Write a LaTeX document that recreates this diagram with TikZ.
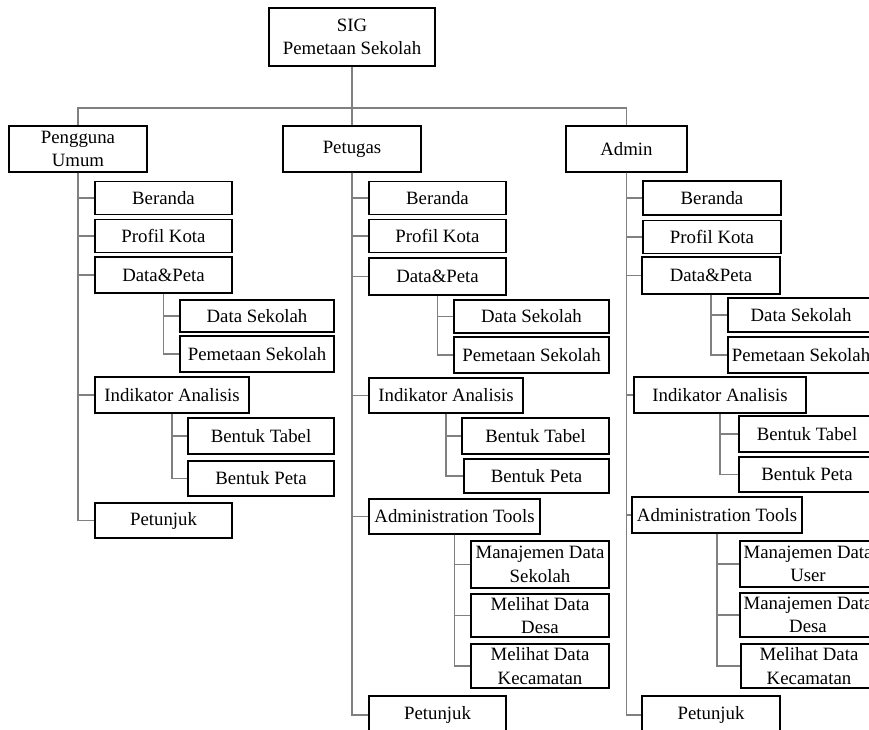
\documentclass[tikz,border=0pt]{standalone}
\usepackage{fontspec}
\setmainfont{Liberation Serif}
\begin{document}
\begin{tikzpicture}[x=1pt,y=-1pt,
  box/.style={draw=black, line width=1.1pt, fill=white, inner sep=0pt,
    align=center, font=\fontsize{18.8}{23.5}\selectfont},
  sz/.style 2 args={minimum width=#1pt, minimum height=#2pt},
  conn/.style={draw=black!50, line width=1.4pt}]
\useasboundingbox (0,0) rectangle (869,729);
\clip (0,0) rectangle (869,729);

% root and the three user groups
\node[box, sz={166}{58}] (sig) at (352,37) {SIG\\Pemetaan Sekolah};
\node[box, sz={138}{46}] (pu)  at (78,149)  {Pengguna\\Umum};
\node[box, sz={138}{46}] (pet) at (352,149) {Petugas};
\node[box, sz={121}{46}] (adm) at (626.5,149) {Admin};
\coordinate (bus) at (352,108);

% Pengguna Umum menu
\node[box, sz={137}{33}] (l1) at (163.5,198) {Beranda};
\node[box, sz={137}{33}] (l2) at (163.5,236) {Profil Kota};
\node[box, sz={137}{36}] (l3) at (163.5,275) {Data\&Peta};
\node[box, sz={154}{32}] (l31) at (257,316) {Data Sekolah};
\node[box, sz={154}{36}] (l32) at (257,354) {Pemetaan Sekolah};
\node[box, sz={154}{36}] (l4) at (172,395) {Indikator Analisis};
\node[box, sz={146}{36}] (l41) at (261,436) {Bentuk Tabel};
\node[box, sz={146}{35}] (l42) at (261,478.5) {Bentuk Peta};
\node[box, sz={137}{35}] (l5) at (163.5,520.5) {Petunjuk};

% Petugas menu
\node[box, sz={137}{33}] (m1) at (437.5,198) {Beranda};
\node[box, sz={137}{33}] (m2) at (437.5,236) {Profil Kota};
\node[box, sz={137}{37}] (m3) at (437.5,276.5) {Data\&Peta};
\node[box, sz={155}{33}] (m31) at (531.5,316.5) {Data Sekolah};
\node[box, sz={155}{36}] (m32) at (531.5,355) {Pemetaan Sekolah};
\node[box, sz={154}{35}] (m4) at (446,395.5) {Indikator Analisis};
\node[box, sz={147}{36}] (m41) at (535.5,436) {Bentuk Tabel};
\node[box, sz={145}{34}] (m42) at (536.5,476) {Bentuk Peta};
\node[box, sz={171}{35}] (m5) at (454.5,516.5) {Administration Tools};
\node[box, sz={138}{47}] (m51) at (540,564.5) {Manajemen Data\\Sekolah};
\node[box, sz={138}{43}] (m52) at (540,615.5) {Melihat Data\\Desa};
\node[box, sz={138}{44}] (m53) at (540,666) {Melihat Data\\Kecamatan};
\node[box, sz={137}{38}] (m6) at (437.5,715) {Petunjuk};

% Admin menu
\node[box, sz={138}{34}] (r1) at (712,198) {Beranda};
\node[box, sz={138}{33}] (r2) at (712,237) {Profil Kota};
\node[box, sz={138}{37}] (r3) at (711,275.5) {Data\&Peta};
\node[box, sz={146}{34}] (r31) at (801,315) {Data Sekolah};
\node[box, sz={146}{36}] (r32) at (801,355) {Pemetaan Sekolah};
\node[box, sz={172}{36}] (r4) at (720,395) {Indikator Analisis};
\node[box, sz={136}{36}] (r41) at (807,434) {Bentuk Tabel};
\node[box, sz={136}{35}] (r42) at (807,474.5) {Bentuk Peta};
\node[box, sz={170}{36}] (r5) at (717,515) {Administration Tools};
\node[box, sz={136}{46}] (r51) at (808,564) {Manajemen Data\\User};
\node[box, sz={136}{44}] (r52) at (808,615) {Manajemen Data\\Desa};
\node[box, sz={136}{44}] (r53) at (809,666) {Melihat Data\\Kecamatan};
\node[box, sz={138}{38}] (r6) at (711,715) {Petunjuk};

% connectors
\draw[conn] (sig.south) -- (bus);
\draw[conn] (bus) -| (pu.north);
\draw[conn] (bus) -- (pet.north);
\draw[conn] (bus) -| (adm.north);
\foreach \p/\c in {pu/l1,pu/l2,pu/l3,pu/l4,pu/l5,l3/l31,l3/l32,l4/l41,l4/l42,
  pet/m1,pet/m2,pet/m3,pet/m4,pet/m5,pet/m6,m3/m31,m3/m32,m4/m41,m4/m42,
  m5/m51,m5/m52,m5/m53,
  adm/r1,adm/r2,adm/r3,adm/r4,adm/r5,adm/r6,r3/r31,r3/r32,r4/r41,r4/r42,
  r5/r51,r5/r52,r5/r53}
  \draw[conn] (\p.south) |- (\c.west);
\end{tikzpicture}
\end{document}
